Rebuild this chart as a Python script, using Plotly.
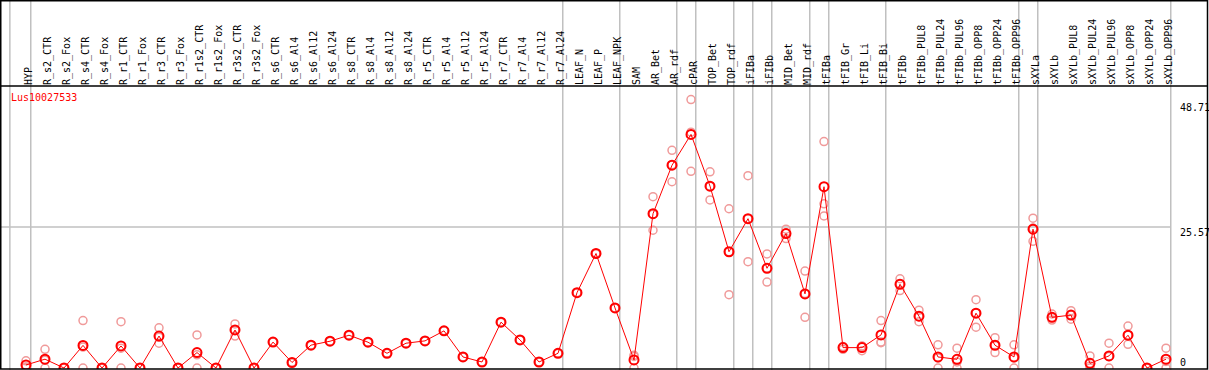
import plotly.graph_objects as go

categories = ["HYP", "R_s2_CTR", "R_s2_Fox", "R_s4_CTR", "R_s4_Fox", "R_r1_CTR", "R_r1_Fox",
              "R_r3_CTR", "R_r3_Fox", "R_r1s2_CTR", "R_r1s2_Fox", "R_r3s2_CTR", "R_r3s2_Fox",
              "R_s6_CTR", "R_s6_Al4", "R_s6_Al12", "R_s6_Al24", "R_s8_CTR", "R_s8_Al4",
              "R_s8_Al12", "R_s8_Al24", "R_r5_CTR", "R_r5_Al4", "R_r5_Al12", "R_r5_Al24",
              "R_r7_CTR", "R_r7_Al4", "R_r7_Al12", "R_r7_Al24", "LEAF_N", "LEAF_P", "LEAF_NPK",
              "SAM", "AR_Bet", "AR_rdf", "cPAR", "TOP_Bet", "TOP_rdf", "iFIBa", "iFIBb",
              "MID_Bet", "MID_rdf", "tFIBa", "tFIB_Gr", "tFIB_Li", "tFIB_Bi", "tFIBb",
              "tFIBb_PUL8", "tFIBb_PUL24", "tFIBb_PUL96", "tFIBb_OPP8", "tFIBb_OPP24", "tFIBb_OPP96",
              "sXYLa", "sXYLb", "sXYLb_PUL8", "sXYLb_PUL24", "sXYLb_PUL96", "sXYLb_OPP8",
              "sXYLb_OPP24", "sXYLb_OPP96"]

mean_values = [0.55, 1.6, 0, 4.1, 0, 4.0, 0, 5.8, 0, 2.8, 0, 6.9, 0,
               4.7, 1.0, 4.15, 4.86, 5.95, 4.68, 2.67, 4.5, 4.92, 6.74, 2.0, 1.09,
               8.32, 5.1, 1.09, 2.67, 13.67, 20.78, 10.9,
               1.46, 28.0, 36.8, 42.4, 33.0, 21.1, 27.1, 18.1, 24.4, 13.45,
               32.9, 3.7, 3.7, 6.0, 15.2, 9.4, 2.0, 1.58, 9.95, 4.13, 2.0,
               25.2, 9.2, 9.6, 0.85, 2.2, 5.95, 0, 1.6]

rep1 = [1.3, 3.4, 0, 8.6, 0, 8.4, 0, 7.3, 0, 6.0, 0, 8.0, 0,
        4.7, 1.0, 4.15, 4.86, 5.95, 4.68, 2.67, 4.5, 4.92, 6.74, 2.0, 1.09,
        8.32, 5.1, 1.09, 2.67, 13.67, 20.78, 10.9,
        2.3, 31.1, 39.5, 48.71, 35.6, 28.9, 34.9, 20.7, 25.2, 17.6,
        41.1, 3.9, 3.9, 8.6, 16.2, 10.5, 4.2, 3.6, 12.4, 5.5, 4.2,
        27.2, 9.8, 10.4, 2.2, 4.5, 7.6, 0, 3.6]
rep2 = [0.2, 0.0, 0, 0.0, 0, 0.0, 0, 4.5, 0, 0.0, 0, 5.8, 0,
        4.7, 1.0, 4.15, 4.86, 5.95, 4.68, 2.67, 4.5, 4.92, 6.74, 2.0, 1.09,
        8.32, 5.1, 1.09, 2.67, 13.67, 20.78, 10.9,
        0.0, 25.0, 33.8, 35.7, 30.5, 13.3, 19.3, 15.6, 23.5, 9.2,
        29.8, 3.4, 3.15, 4.6, 14.05, 8.4, 0.0, 0.0, 7.4, 2.8, 0.0,
        23.0, 8.7, 8.85, 0.0, 0.0, 4.3, 0, 0.0]
rep3 = [0.15, 1.4, 0, 3.8, 0, 3.6, 0, 5.6, 0, 2.4, 0, 6.9, 0,
        4.7, 1.0, 4.15, 4.86, 5.95, 4.68, 2.67, 4.5, 4.92, 6.74, 2.0, 1.09,
        8.32, 5.1, 1.09, 2.67, 13.67, 20.78, 10.9,
        2.1, 27.9, 36.9, 42.8, 33.0, 21.1, 27.1, 18.1, 24.5, 13.5,
        27.6, 3.8, 4.0, 4.7, 15.3, 9.3, 1.8, 1.1, 10.0, 4.1, 1.8,
        25.4, 9.1, 9.6, 0.35, 2.1, 5.95, 0, 1.2]

group_breaks = [-0.85, 0.25, 28.25, 31.25, 34.25, 35.25, 37.25, 38.25, 39.25,
                41.25, 42.25, 45.25, 52.25, 53.25, 60.25]
y_ticks = [48.71, 25.57, 0]
gene_name = "Lus10027533"

W, H = 1209, 370
PX_PER_CAT = 19.0
X0_PX = 26.0
PLOT_TOP_PX = 86
PLOT_BOT_PX = 369
ZERO_PX = 368
PX_PER_UNIT = 5.51

x_lo = -X0_PX / PX_PER_CAT
x_hi = x_lo + W / PX_PER_CAT
y_lo = -(PLOT_BOT_PX - ZERO_PX) / PX_PER_UNIT
y_hi = (ZERO_PX - PLOT_TOP_PX) / PX_PER_UNIT

def py(px):
    return (H - px) / H

xs = list(range(len(categories)))
FONT = "DejaVu Sans Mono"

fig = go.Figure()
for rep in (rep1, rep2, rep3):
    fig.add_trace(go.Scatter(
        x=xs, y=rep, mode="markers",
        marker=dict(symbol="circle-open", size=8, color="#f09a9a", line=dict(width=1.5, color="#f09a9a")),
        showlegend=False, hoverinfo="skip", cliponaxis=True))
fig.add_trace(go.Scatter(
    x=xs, y=mean_values, mode="lines+markers",
    line=dict(color="#ff0000", width=1),
    marker=dict(symbol="circle-open", size=9, color="#ff0000", line=dict(width=2, color="#ff0000")),
    showlegend=False, cliponaxis=True))

shapes = []
for b in group_breaks:
    shapes.append(dict(type="line", xref="x", yref="paper", x0=b, x1=b, y0=0, y1=1,
                       line=dict(color="#c0c0c0", width=1.5), layer="below"))
# horizontal grid line for middle tick
shapes.append(dict(type="line", xref="x", yref="y", x0=x_lo, x1=60.25, y0=y_ticks[1], y1=y_ticks[1],
                   line=dict(color="#c0c0c0", width=1.5), layer="below"))
# frame
shapes.append(dict(type="rect", xref="paper", yref="paper", x0=0.75 / W, x1=1207.5 / W,
                   y0=py(PLOT_BOT_PX), y1=py(0.75), line=dict(color="black", width=1.5)))
shapes.append(dict(type="line", xref="paper", yref="paper", x0=0, x1=1207.5 / W,
                   y0=py(PLOT_TOP_PX), y1=py(PLOT_TOP_PX), line=dict(color="black", width=1.5)))

annotations = [dict(text=gene_name, xref="paper", yref="paper", x=9 / W, y=py(97),
                    xanchor="left", yanchor="middle", showarrow=False,
                    font=dict(family=FONT, size=10, color="#ff0000"))]
for val, ypx in zip(y_ticks, [107, 232, 362]):
    annotations.append(dict(text=str(val) if val != 0 else "0", xref="paper", yref="paper",
                            x=1178 / W, y=py(ypx), xanchor="left", yanchor="middle",
                            showarrow=False, font=dict(family=FONT, size=10, color="black")))

fig.update_layout(
    width=W, height=H, margin=dict(l=0, r=0, t=0, b=0),
    paper_bgcolor="white", plot_bgcolor="white",
    xaxis=dict(range=[x_lo, x_hi], domain=[0, 1], side="top", tickmode="array",
               tickvals=xs, ticktext=categories, tickangle=-90, ticklabelshift=3,
               tickfont=dict(family=FONT, size=10, color="black"),
               showgrid=False, zeroline=False, showline=False, ticks=""),
    yaxis=dict(range=[y_lo, y_hi], domain=[py(PLOT_BOT_PX), py(PLOT_TOP_PX)],
               showgrid=False, zeroline=False, showticklabels=False, showline=False),
    shapes=shapes, annotations=annotations,
)

fig.write_html("out.html", config={"displayModeBar": False},
               post_script="document.body.style.margin='0px';document.body.style.overflow='hidden';")
